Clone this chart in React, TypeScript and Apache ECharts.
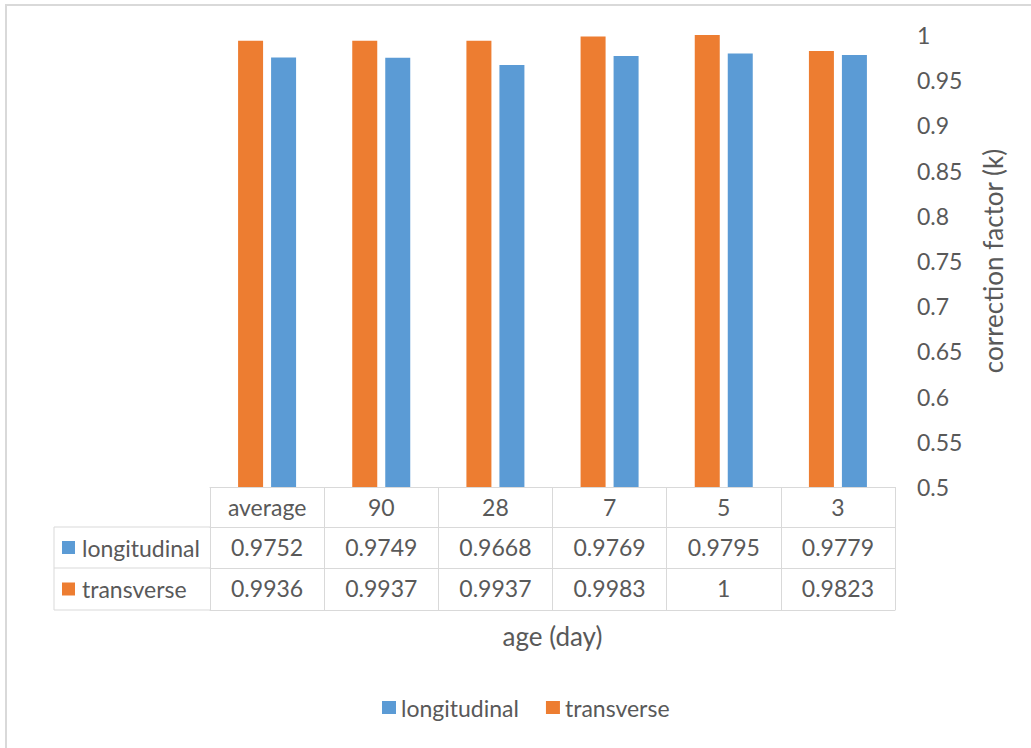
import React, { useEffect, useRef } from "react";
import * as echarts from "echarts";

// Age groups (days) and correction factors per direction
const categories = ["average", "90", "28", "7", "5", "3"];
const longitudinal = [0.9752, 0.9749, 0.9668, 0.9769, 0.9795, 0.9779];
const transverse = [0.9936, 0.9937, 0.9937, 0.9983, 1, 0.9823];
const seriesNames = ["longitudinal", "transverse"];

const yMin = 0.5;
const yMax = 1;
const yStep = 0.05;

const BLUE = "#5B9BD5";
const ORANGE = "#ED7D31";
const TEXT = "#595959";
const LINE = "#d9d9d9";
const FONT = "Lato";
const LABEL_SIZE = 23;
const TITLE_SIZE = 26;

export default function App() {
  const ref = useRef<HTMLDivElement>(null);

  useEffect(() => {
    if (!ref.current) return;
    const chart = echarts.init(ref.current, undefined, { renderer: "svg" });

    const gridLeft = 210;
    const gridRight = 895;
    const gridTop = 35;
    const gridBottom = 487;
    const rowOffsets = [0, 40, 81, 123];

    // table rows rendered as stacked category axes under the plot
    const tableAxis = (offset: number, labels: ((i: number) => string) | null, tickLen: number, extra: any = {}) => ({
      type: "category",
      data: categories,
      position: "bottom",
      offset,
      gridIndex: 0,
      boundaryGap: true,
      axisLine: { show: true, lineStyle: { color: LINE, width: 1 } },
      axisTick: { show: tickLen > 0, length: tickLen, inside: false, lineStyle: { color: LINE, width: 1 } },
      axisLabel: labels
        ? {
            show: true,
            interval: 0,
            margin: 20,
            verticalAlign: "middle",
            color: TEXT,
            fontFamily: FONT,
            fontSize: LABEL_SIZE,
            formatter: (_v: string, i: number) => labels(i),
          }
        : { show: false },
      splitLine: { show: false },
      ...extra,
    });

    const rowY1 = gridBottom + rowOffsets[1];
    const rowY2 = gridBottom + rowOffsets[2];
    const rowY3 = gridBottom + rowOffsets[3];

    chart.setOption({
      animation: false,
      backgroundColor: "#ffffff",
      textStyle: { fontFamily: FONT },
      grid: {
        left: gridLeft,
        right: 1031 - gridRight,
        top: gridTop,
        bottom: 748 - gridBottom,
        containLabel: false,
      },
      legend: {
        data: seriesNames,
        left: 377,
        top: 691,
        icon: "rect",
        itemWidth: 14,
        itemHeight: 13,
        itemGap: 27,
        textStyle: { color: TEXT, fontFamily: FONT, fontSize: LABEL_SIZE },
      },
      xAxis: [
        tableAxis(rowOffsets[0], (i) => categories[i], rowOffsets[1] - rowOffsets[0]),
        tableAxis(rowOffsets[1], (i) => String(longitudinal[i]), rowOffsets[2] - rowOffsets[1]),
        tableAxis(rowOffsets[2], (i) => String(transverse[i]), rowOffsets[3] - rowOffsets[2]),
        tableAxis(rowOffsets[3], null, 0, {
          name: "age (day)",
          nameLocation: "middle",
          nameGap: 26,
          nameTextStyle: { color: TEXT, fontFamily: FONT, fontSize: TITLE_SIZE, verticalAlign: "middle" },
        }),
      ],
      yAxis: {
        type: "value",
        position: "right",
        min: yMin,
        max: yMax,
        interval: yStep,
        axisLine: { show: false },
        axisTick: { show: false },
        splitLine: { show: false },
        axisLabel: {
          margin: 22,
          color: TEXT,
          fontFamily: FONT,
          fontSize: LABEL_SIZE,
          formatter: (v: number) => String(+v.toFixed(2)),
        },
      },
      series: [
        {
          name: "transverse",
          type: "bar",
          xAxisIndex: 0,
          data: transverse,
          barWidth: 25,
          barGap: "32%",
          itemStyle: { color: ORANGE },
        },
        {
          name: "longitudinal",
          type: "bar",
          xAxisIndex: 0,
          data: longitudinal,
          barWidth: 25,
          barGap: "32%",
          itemStyle: { color: BLUE },
        },
      ],
      graphic: [
        // chart area border
        {
          type: "rect",
          silent: true,
          shape: { x: 6, y: 5, width: 1100, height: 800 },
          style: { fill: "none", stroke: LINE, lineWidth: 2 },
        },
        // series-key cells left of the table
        { type: "line", silent: true, shape: { x1: 54, y1: rowY1, x2: gridLeft, y2: rowY1 }, style: { stroke: LINE, lineWidth: 1 } },
        { type: "line", silent: true, shape: { x1: 54, y1: rowY2, x2: gridLeft, y2: rowY2 }, style: { stroke: LINE, lineWidth: 1 } },
        { type: "line", silent: true, shape: { x1: 54, y1: rowY3, x2: gridLeft, y2: rowY3 }, style: { stroke: LINE, lineWidth: 1 } },
        { type: "line", silent: true, shape: { x1: 54, y1: rowY1, x2: 54, y2: rowY3 }, style: { stroke: LINE, lineWidth: 1 } },
        { type: "rect", silent: true, shape: { x: 62, y: (rowY1 + rowY2) / 2 - 6.5, width: 13, height: 13 }, style: { fill: BLUE } },
        {
          type: "text",
          silent: true,
          x: 82,
          y: (rowY1 + rowY2) / 2,
          style: { text: seriesNames[0], fill: TEXT, font: `${LABEL_SIZE}px ${FONT}`, verticalAlign: "middle", align: "left" },
        },
        { type: "rect", silent: true, shape: { x: 62, y: (rowY2 + rowY3) / 2 - 6.5, width: 13, height: 13 }, style: { fill: ORANGE } },
        {
          type: "text",
          silent: true,
          x: 82,
          y: (rowY2 + rowY3) / 2,
          style: { text: seriesNames[1], fill: TEXT, font: `${LABEL_SIZE}px ${FONT}`, verticalAlign: "middle", align: "left" },
        },
        // value axis title
        {
          type: "text",
          silent: true,
          x: 993,
          y: (gridTop + gridBottom) / 2,
          rotation: Math.PI / 2,
          style: {
            text: "correction factor (k)",
            fill: TEXT,
            font: `${TITLE_SIZE}px ${FONT}`,
            align: "center",
            verticalAlign: "middle",
          },
        },
      ],
    });

    return () => chart.dispose();
  }, []);

  return (
    <div
      ref={ref}
      style={{ position: "absolute", left: 0, top: 0, width: 1031, height: 748 }}
    />
  );
}
